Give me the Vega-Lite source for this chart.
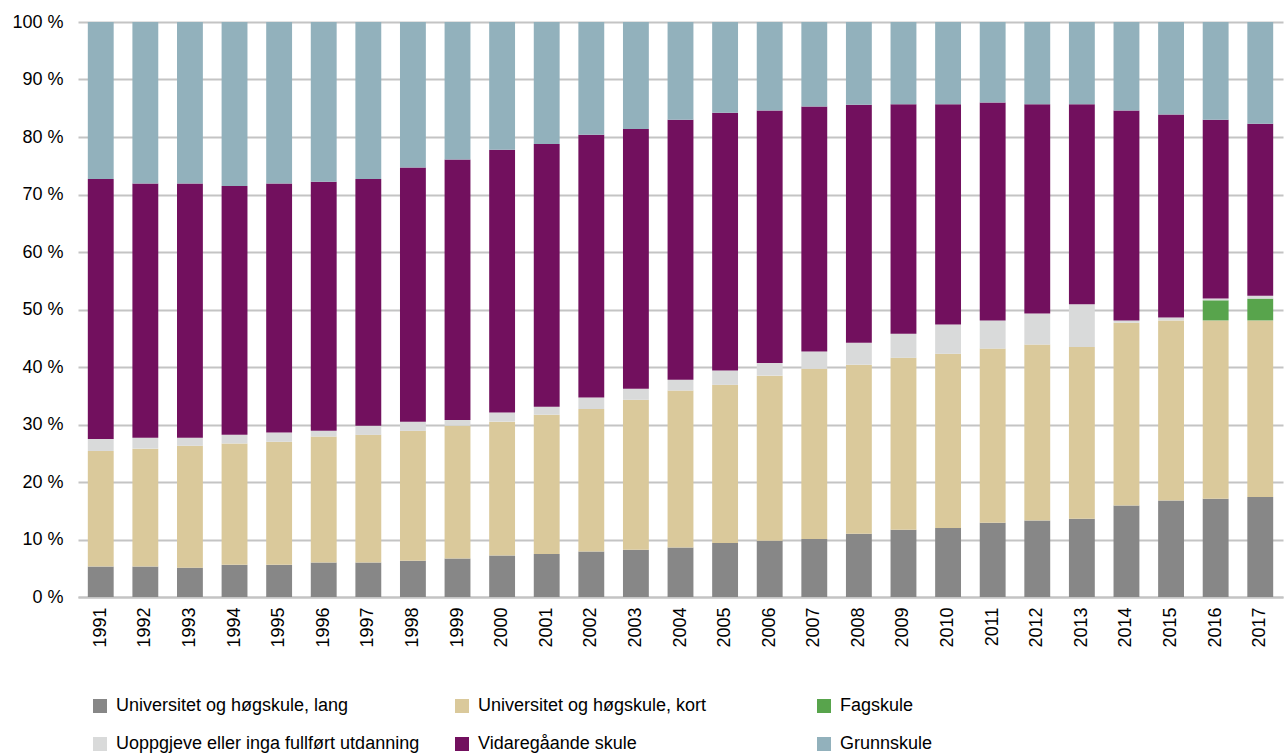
{
  "$schema": "https://vega.github.io/schema/vega-lite/v6.json",
  "width": 1205,
  "height": 575,
  "autosize": {"type": "none"},
  "padding": {"left": 78, "top": 22, "right": 2, "bottom": 159},
  "background": "white",
  "config": {
    "view": {"stroke": null},
    "font": "Liberation Sans",
    "axis": {"labelFont": "Liberation Sans", "labelColor": "#000000", "labelFontSize": 18},
    "legend": {"labelFont": "Liberation Sans", "labelColor": "#000000", "labelFontSize": 18}
  },
  "datasets": {
    "kategorier": [
      {"kategori": "Universitet og høgskule, lang", "nr": 1},
      {"kategori": "Universitet og høgskule, kort", "nr": 2},
      {"kategori": "Fagskule", "nr": 3},
      {"kategori": "Uoppgjeve eller inga fullført utdanning", "nr": 4},
      {"kategori": "Vidaregåande skule", "nr": 5},
      {"kategori": "Grunnskule", "nr": 6}
    ]
  },
  "data": {
    "values": [
      {"year": "1991", "Universitet og høgskule, lang": 5.3, "Universitet og høgskule, kort": 20.1, "Fagskule": 0, "Uoppgjeve eller inga fullført utdanning": 2.1, "Vidaregåande skule": 45.2, "Grunnskule": 27.3},
      {"year": "1992", "Universitet og høgskule, lang": 5.3, "Universitet og høgskule, kort": 20.5, "Fagskule": 0, "Uoppgjeve eller inga fullført utdanning": 1.9, "Vidaregåande skule": 44.2, "Grunnskule": 28.1},
      {"year": "1993", "Universitet og høgskule, lang": 5.1, "Universitet og høgskule, kort": 21.2, "Fagskule": 0, "Uoppgjeve eller inga fullført utdanning": 1.4, "Vidaregåande skule": 44.2, "Grunnskule": 28.1},
      {"year": "1994", "Universitet og høgskule, lang": 5.6, "Universitet og høgskule, kort": 21.1, "Fagskule": 0, "Uoppgjeve eller inga fullført utdanning": 1.5, "Vidaregåande skule": 43.3, "Grunnskule": 28.5},
      {"year": "1995", "Universitet og høgskule, lang": 5.6, "Universitet og høgskule, kort": 21.4, "Fagskule": 0, "Uoppgjeve eller inga fullført utdanning": 1.6, "Vidaregåande skule": 43.3, "Grunnskule": 28.1},
      {"year": "1996", "Universitet og høgskule, lang": 6.0, "Universitet og høgskule, kort": 21.9, "Fagskule": 0, "Uoppgjeve eller inga fullført utdanning": 1.0, "Vidaregåande skule": 43.3, "Grunnskule": 27.8},
      {"year": "1997", "Universitet og høgskule, lang": 6.0, "Universitet og høgskule, kort": 22.2, "Fagskule": 0, "Uoppgjeve eller inga fullført utdanning": 1.6, "Vidaregåande skule": 42.9, "Grunnskule": 27.3},
      {"year": "1998", "Universitet og høgskule, lang": 6.3, "Universitet og høgskule, kort": 22.6, "Fagskule": 0, "Uoppgjeve eller inga fullført utdanning": 1.6, "Vidaregåande skule": 44.2, "Grunnskule": 25.3},
      {"year": "1999", "Universitet og høgskule, lang": 6.7, "Universitet og høgskule, kort": 23.1, "Fagskule": 0, "Uoppgjeve eller inga fullført utdanning": 1.0, "Vidaregåande skule": 45.3, "Grunnskule": 23.9},
      {"year": "2000", "Universitet og høgskule, lang": 7.2, "Universitet og høgskule, kort": 23.3, "Fagskule": 0, "Uoppgjeve eller inga fullført utdanning": 1.6, "Vidaregåande skule": 45.7, "Grunnskule": 22.2},
      {"year": "2001", "Universitet og høgskule, lang": 7.5, "Universitet og høgskule, kort": 24.2, "Fagskule": 0, "Uoppgjeve eller inga fullført utdanning": 1.4, "Vidaregåande skule": 45.7, "Grunnskule": 21.2},
      {"year": "2002", "Universitet og høgskule, lang": 7.9, "Universitet og høgskule, kort": 24.8, "Fagskule": 0, "Uoppgjeve eller inga fullført utdanning": 2.0, "Vidaregåande skule": 45.7, "Grunnskule": 19.6},
      {"year": "2003", "Universitet og høgskule, lang": 8.2, "Universitet og høgskule, kort": 26.1, "Fagskule": 0, "Uoppgjeve eller inga fullført utdanning": 1.9, "Vidaregåande skule": 45.2, "Grunnskule": 18.6},
      {"year": "2004", "Universitet og høgskule, lang": 8.6, "Universitet og høgskule, kort": 27.3, "Fagskule": 0, "Uoppgjeve eller inga fullført utdanning": 1.9, "Vidaregåande skule": 45.2, "Grunnskule": 17.0},
      {"year": "2005", "Universitet og høgskule, lang": 9.4, "Universitet og høgskule, kort": 27.5, "Fagskule": 0, "Uoppgjeve eller inga fullført utdanning": 2.5, "Vidaregåande skule": 44.8, "Grunnskule": 15.8},
      {"year": "2006", "Universitet og høgskule, lang": 9.8, "Universitet og høgskule, kort": 28.7, "Fagskule": 0, "Uoppgjeve eller inga fullført utdanning": 2.2, "Vidaregåande skule": 43.9, "Grunnskule": 15.4},
      {"year": "2007", "Universitet og høgskule, lang": 10.1, "Universitet og høgskule, kort": 29.6, "Fagskule": 0, "Uoppgjeve eller inga fullført utdanning": 3.0, "Vidaregåande skule": 42.6, "Grunnskule": 14.7},
      {"year": "2008", "Universitet og høgskule, lang": 11.0, "Universitet og høgskule, kort": 29.4, "Fagskule": 0, "Uoppgjeve eller inga fullført utdanning": 3.8, "Vidaregåande skule": 41.4, "Grunnskule": 14.4},
      {"year": "2009", "Universitet og høgskule, lang": 11.7, "Universitet og høgskule, kort": 29.9, "Fagskule": 0, "Uoppgjeve eller inga fullført utdanning": 4.2, "Vidaregåande skule": 39.9, "Grunnskule": 14.3},
      {"year": "2010", "Universitet og høgskule, lang": 12.0, "Universitet og høgskule, kort": 30.3, "Fagskule": 0, "Uoppgjeve eller inga fullført utdanning": 5.1, "Vidaregåande skule": 38.3, "Grunnskule": 14.3},
      {"year": "2011", "Universitet og høgskule, lang": 12.9, "Universitet og høgskule, kort": 30.3, "Fagskule": 0, "Uoppgjeve eller inga fullført utdanning": 4.9, "Vidaregåande skule": 37.9, "Grunnskule": 14.0},
      {"year": "2012", "Universitet og høgskule, lang": 13.3, "Universitet og høgskule, kort": 30.6, "Fagskule": 0, "Uoppgjeve eller inga fullført utdanning": 5.4, "Vidaregåande skule": 36.4, "Grunnskule": 14.3},
      {"year": "2013", "Universitet og høgskule, lang": 13.6, "Universitet og høgskule, kort": 29.9, "Fagskule": 0, "Uoppgjeve eller inga fullført utdanning": 7.4, "Vidaregåande skule": 34.8, "Grunnskule": 14.3},
      {"year": "2014", "Universitet og høgskule, lang": 15.9, "Universitet og høgskule, kort": 31.8, "Fagskule": 0, "Uoppgjeve eller inga fullført utdanning": 0.4, "Vidaregåande skule": 36.5, "Grunnskule": 15.4},
      {"year": "2015", "Universitet og høgskule, lang": 16.8, "Universitet og høgskule, kort": 31.3, "Fagskule": 0, "Uoppgjeve eller inga fullført utdanning": 0.5, "Vidaregåande skule": 35.3, "Grunnskule": 16.1},
      {"year": "2016", "Universitet og høgskule, lang": 17.1, "Universitet og høgskule, kort": 31.0, "Fagskule": 3.5, "Uoppgjeve eller inga fullført utdanning": 0.3, "Vidaregåande skule": 31.1, "Grunnskule": 17.0},
      {"year": "2017", "Universitet og høgskule, lang": 17.4, "Universitet og høgskule, kort": 30.7, "Fagskule": 3.8, "Uoppgjeve eller inga fullført utdanning": 0.5, "Vidaregåande skule": 29.9, "Grunnskule": 17.7}
    ]
  },
  "transform": [
    {"fold": ["Universitet og høgskule, lang", "Universitet og høgskule, kort", "Fagskule", "Uoppgjeve eller inga fullført utdanning", "Vidaregåande skule", "Grunnskule"], "as": ["kategori", "andel"]},
    {"lookup": "kategori", "from": {"data": {"name": "kategorier"}, "key": "kategori", "fields": ["nr"]}}
  ],
  "mark": {"type": "bar"},
  "encoding": {
    "x": {
      "field": "year", "type": "ordinal",
      "scale": {"paddingInner": 0.42, "paddingOuter": 0.22},
      "axis": {"title": null, "labelAngle": -90, "ticks": false, "domain": true, "domainColor": "#c4c4c4", "domainWidth": 2, "labelPadding": 10}
    },
    "y": {
      "field": "andel", "type": "quantitative", "stack": "normalize",
      "scale": {"domain": [0, 1], "nice": false},
      "axis": {"title": null, "values": [0, 0.1, 0.2, 0.3, 0.4, 0.5, 0.6, 0.7, 0.8, 0.9, 1], "labelExpr": "format(datum.value * 100, 'd') + ' %'", "domain": false, "ticks": false, "labelPadding": 15, "labelOverlap": false, "grid": true, "gridColor": "#c4c4c4", "gridWidth": 2}
    },
    "order": {"field": "nr", "type": "quantitative", "sort": "ascending"},
    "color": {
      "field": "kategori", "type": "nominal",
      "scale": {
        "domain": ["Universitet og høgskule, lang", "Universitet og høgskule, kort", "Fagskule", "Uoppgjeve eller inga fullført utdanning", "Vidaregåande skule", "Grunnskule"],
        "range": ["#878787", "#dac99b", "#58a44c", "#d9dada", "#72105e", "#92b1bc"]
      },
      "legend": {
        "title": null, "orient": "none", "legendX": 13, "legendY": 675, "direction": "horizontal", "columns": 3,
        "symbolType": "square", "symbolSize": 196, "symbolStrokeWidth": 0,
        "labelOffset": 7, "rowPadding": 20, "columnPadding": 33, "gridAlign": "all",
        "padding": 0, "labelLimit": 400
      }
    }
  }
}
